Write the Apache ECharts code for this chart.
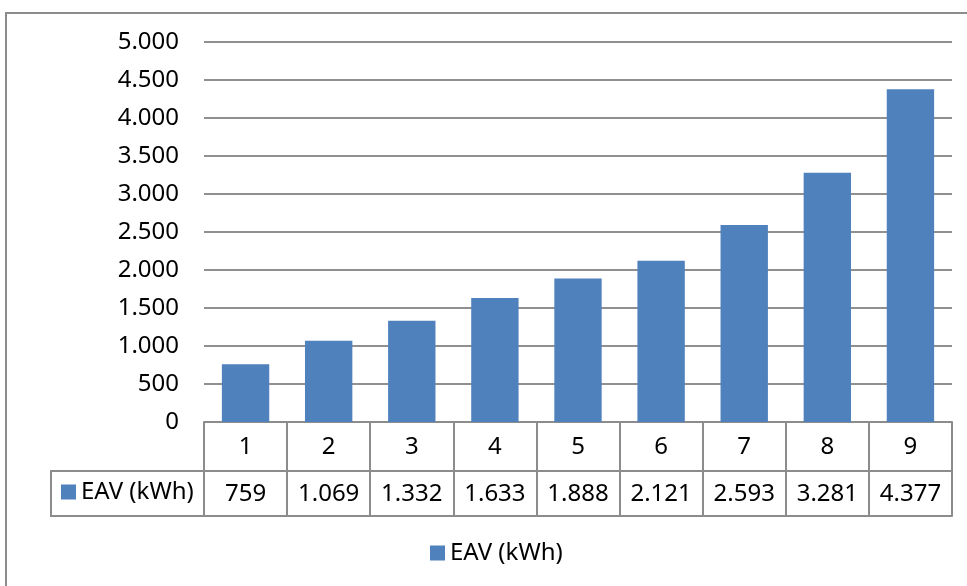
<!DOCTYPE html>
<html>
<head>
<meta charset="utf-8">
<script src="https://cdn.jsdelivr.net/npm/echarts@6/dist/echarts.min.js"></script>
<style>html,body{margin:0;padding:0;background:#fff}#c{width:967px;height:586px}</style>
</head>
<body>
<div id="c"></div>
<script>
var categories = ['1','2','3','4','5','6','7','8','9'];
var seriesName = 'EAV (kWh)';
var values = [759, 1069, 1332, 1633, 1888, 2121, 2593, 3281, 4377];
var yMin = 0, yMax = 5000, yInterval = 500;

function fmt(v) {
  return String(v).replace(/\B(?=(\d{3})+(?!\d))/g, '.');
}
var valueLabels = values.map(fmt);

var FONT = 'Noto Sans';
var FS = 24;
var LINE = '#8c8c8c';

var chart = echarts.init(document.getElementById('c'), null, {renderer: 'canvas'});
chart.setOption({
  animation: false,
  backgroundColor: '#fff',
  textStyle: {fontFamily: FONT},
  grid: {left: 204, right: 15, top: 42, bottom: 164, containLabel: false},
  legend: [
    {
      data: [seriesName], left: 61, top: 480, padding: 0,
      itemWidth: 15, itemHeight: 15, icon: 'rect',
      textStyle: {fontFamily: FONT, fontSize: FS, color: '#000', lineHeight: 24}
    },
    {
      data: [seriesName], left: 430, top: 541, padding: 0,
      itemWidth: 15, itemHeight: 15, icon: 'rect',
      textStyle: {fontFamily: FONT, fontSize: FS, color: '#000', lineHeight: 24}
    }
  ],
  xAxis: [
    {
      type: 'category', data: categories, position: 'bottom',
      boundaryGap: true,
      axisLine: {show: true, lineStyle: {color: LINE, width: 2}},
      axisTick: {show: true, length: 49, lineStyle: {color: LINE, width: 2}},
      axisLabel: {margin: 25, verticalAlign: 'middle', fontFamily: FONT, fontSize: FS, color: '#000', lineHeight: 24}
    },
    {
      type: 'category', data: valueLabels, position: 'bottom', offset: 49,
      boundaryGap: true,
      axisLine: {show: true, lineStyle: {color: LINE, width: 2}},
      axisTick: {show: true, length: 45, lineStyle: {color: LINE, width: 2}},
      axisLabel: {margin: 23, verticalAlign: 'middle', fontFamily: FONT, fontSize: FS, color: '#000', lineHeight: 24}
    },
    {
      type: 'category', data: categories, position: 'bottom', offset: 94,
      axisLine: {show: true, lineStyle: {color: LINE, width: 2}},
      axisTick: {show: false},
      axisLabel: {show: false}
    }
  ],
  yAxis: {
    type: 'value', min: yMin, max: yMax, interval: yInterval,
    axisLine: {show: false}, axisTick: {show: false},
    splitLine: {show: true, lineStyle: {color: '#909090', width: 2}},
    axisLabel: {margin: 25, fontFamily: FONT, fontSize: FS, color: '#000', formatter: fmt}
  },
  series: [{
    name: seriesName, type: 'bar', data: values,
    xAxisIndex: 0, barCategoryGap: '43%',
    itemStyle: {color: '#4F81BD'}
  }],
  graphic: [
    {type: 'rect', shape: {x: 6, y: 13, width: 1200, height: 1200}, style: {fill: null, stroke: '#8c8c8c', lineWidth: 2}, silent: true, z: -10},
    {type: 'rect', shape: {x: 51, y: 471, width: 153, height: 45}, style: {fill: null, stroke: LINE, lineWidth: 2}, silent: true}
  ]
});
</script>
</body>
</html>
